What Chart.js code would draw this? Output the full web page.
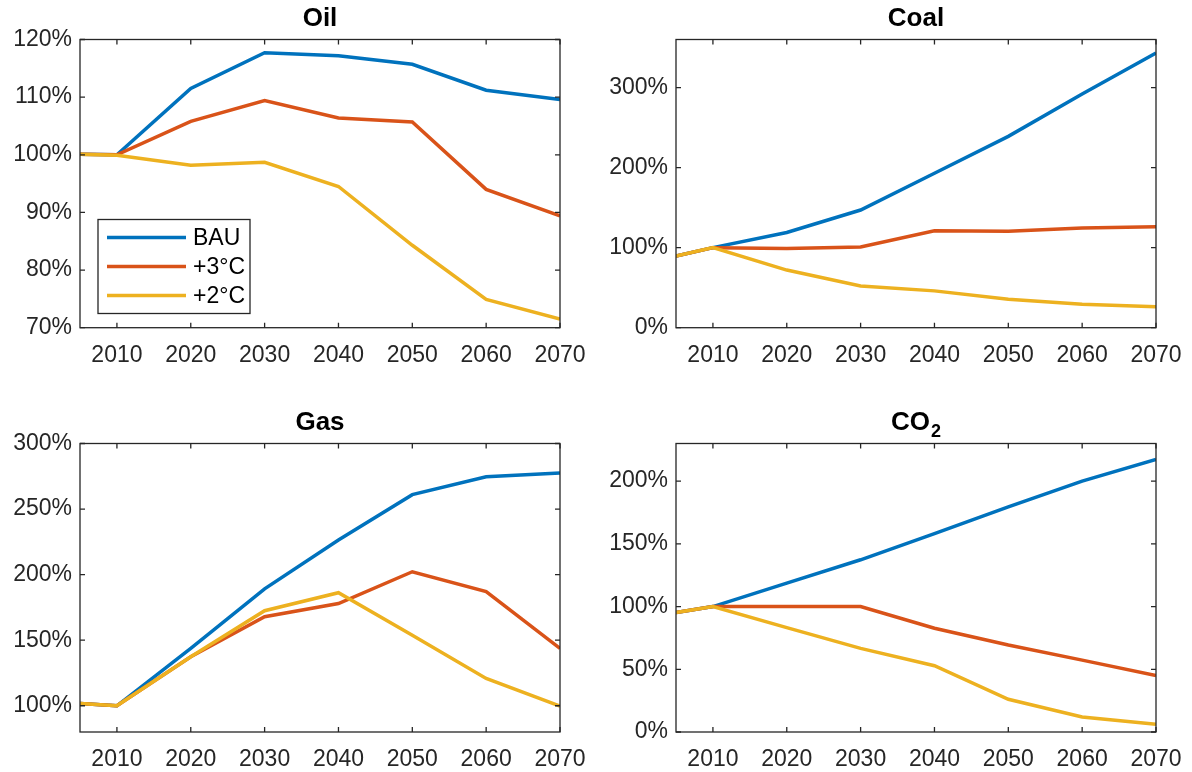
<!DOCTYPE html>
<html>
<head>
<meta charset="utf-8">
<script src="https://cdn.jsdelivr.net/npm/chart.js@4.4.1/dist/chart.umd.min.js"></script>
<style>
  body { margin: 0; background: #fff; }
  #wrap { position: relative; width: 1192px; height: 772px; }
  canvas { position: absolute; }
</style>
</head>
<body>
<div id="wrap">
  <canvas id="oilChart" width="596" height="386" style="left:0;top:0"></canvas>
  <canvas id="coalChart" width="596" height="386" style="left:596px;top:0"></canvas>
  <canvas id="gasChart" width="596" height="386" style="left:0;top:386px"></canvas>
  <canvas id="co2Chart" width="596" height="386" style="left:596px;top:386px"></canvas>
</div>
<script>
// Years on the x axis and the tick labels shown
const years = [2005, 2010, 2020, 2030, 2040, 2050, 2060, 2070];
const yearTicks = [2010, 2020, 2030, 2040, 2050, 2060, 2070];
const scenarios = ['BAU', '+3°C', '+2°C'];

// Oil (% of 2010)
const oilBAU = [100.1, 100, 111.5, 117.7, 117.2, 115.7, 111.2, 109.6];
const oil3C  = [100.1, 100, 105.8, 109.4, 106.4, 105.7, 94.0, 89.4];
const oil2C  = [100.1, 99.9, 98.2, 98.7, 94.5, 84.3, 74.9, 71.5];
const oilTicks = [70, 80, 90, 100, 110, 120];

// Coal
const coalBAU = [89.6, 100, 119, 147, 193, 239, 292, 343];
const coal3C  = [89.6, 100, 99, 100.8, 121, 120.4, 124.6, 126];
const coal2C  = [89.6, 100, 72, 52, 46, 35.4, 29.2, 26.3];
const coalTicks = [0, 100, 200, 300];

// Gas
const gasBAU = [101.8, 100, 143.7, 189.2, 226.4, 261, 274.6, 277.6];
const gas3C  = [101.8, 100, 137.4, 167.9, 178, 202.2, 187, 143.7];
const gas2C  = [101.8, 100, 137.4, 172.5, 186.2, 153.8, 120.8, 99.7];
const gasTicks = [100, 150, 200, 250, 300];

// CO2
const co2BAU = [95.2, 100, 118.7, 137.3, 158.1, 179.5, 200, 217.3];
const co23C  = [95.2, 100, 100, 100, 82.7, 69.3, 57.3, 45];
const co22C  = [95.2, 100, 83.2, 66.7, 52.8, 26.1, 12, 6.1];
const co2Ticks = [0, 50, 100, 150, 200];

const lineColors = ['#0072BD', '#D95319', '#EDB120'];
const axisColor = '#262626';

Chart.defaults.font.family = '"Liberation Sans", Arial, sans-serif';
Chart.defaults.color = axisColor;

// Box around the plot with inward ticks on all four sides (MATLAB style)
const frame = {
    id: 'frame',
    afterDatasetsDraw(chart) {
        const { ctx, chartArea: a, scales } = chart;
        ctx.save();
        ctx.strokeStyle = axisColor;
        ctx.lineWidth = 1.3;
        ctx.strokeRect(a.left, a.top, a.width, a.height);
        ctx.beginPath();
        scales.x.ticks.forEach(t => {
            const px = scales.x.getPixelForValue(t.value);
            ctx.moveTo(px, a.bottom); ctx.lineTo(px, a.bottom - 5);
            ctx.moveTo(px, a.top); ctx.lineTo(px, a.top + 5);
        });
        scales.y.ticks.forEach(t => {
            const py = scales.y.getPixelForValue(t.value);
            ctx.moveTo(a.left, py); ctx.lineTo(a.left + 5, py);
            ctx.moveTo(a.right, py); ctx.lineTo(a.right - 5, py);
        });
        ctx.stroke();
        ctx.restore();
    }
};

// Title centred over the plot area, with optional subscript
const panelTitle = {
    id: 'panelTitle',
    afterDraw(chart, args, opts) {
        const { ctx, chartArea: a } = chart;
        const cx = (a.left + a.right) / 2;
        const cy = a.top - 21;
        ctx.save();
        ctx.fillStyle = '#000';
        ctx.textBaseline = 'middle';
        ctx.textAlign = 'left';
        ctx.font = 'bold 26px "Liberation Sans", Arial, sans-serif';
        const w1 = ctx.measureText(opts.text).width;
        let w2 = 0;
        if (opts.sub) {
            ctx.font = 'bold 18px "Liberation Sans", Arial, sans-serif';
            w2 = ctx.measureText(opts.sub).width + 1;
        }
        const x0 = cx - (w1 + w2) / 2;
        ctx.font = 'bold 26px "Liberation Sans", Arial, sans-serif';
        ctx.fillText(opts.text, x0, cy);
        if (opts.sub) {
            ctx.font = 'bold 18px "Liberation Sans", Arial, sans-serif';
            ctx.fillText(opts.sub, x0 + w1 + 1, cy + 10);
        }
        ctx.restore();
    }
};

// Legend drawn inside the plot area (lower left)
const boxLegend = {
    id: 'boxLegend',
    afterDraw(chart) {
        const { ctx, chartArea: a } = chart;
        const x = a.left + 18, y = a.top + 180, w = 152, h = 94;
        ctx.save();
        ctx.fillStyle = '#fff';
        ctx.fillRect(x, y, w, h);
        ctx.strokeStyle = axisColor;
        ctx.lineWidth = 1.3;
        ctx.strokeRect(x, y, w, h);
        ctx.font = '23px "Liberation Sans", Arial, sans-serif';
        ctx.textBaseline = 'middle';
        ctx.lineWidth = 3.5;
        chart.data.datasets.forEach((ds, i) => {
            const ry = y + 18 + i * 29;
            ctx.strokeStyle = ds.borderColor;
            ctx.beginPath();
            ctx.moveTo(x + 9, ry);
            ctx.lineTo(x + 88, ry);
            ctx.stroke();
            ctx.fillStyle = '#000';
            ctx.fillText(ds.label, x + 95, ry + 1);
        });
        ctx.restore();
    }
};

function makePanel(id, title, sub, series, yMin, yMax, yTicks, padTop, xHeight, withLegend) {
    const ctx = document.getElementById(id).getContext('2d');
    const plugins = [frame, panelTitle];
    if (withLegend) plugins.push(boxLegend);
    return new Chart(ctx, {
        type: 'line',
        data: {
            datasets: series.map((vals, i) => ({
                label: scenarios[i],
                data: vals.map((v, j) => ({ x: years[j], y: v })),
                borderColor: lineColors[i],
                borderWidth: 3.5,
                pointRadius: 0,
                tension: 0,
                order: 3 - i // +2°C on top, like the original
            }))
        },
        options: {
            responsive: false,
            animation: false,
            layout: { padding: { top: padTop, right: 36, left: 0, bottom: 0 } },
            plugins: {
                legend: { display: false },
                tooltip: { enabled: false },
                panelTitle: { text: title, sub: sub }
            },
            scales: {
                x: {
                    type: 'linear',
                    min: 2005,
                    max: 2070,
                    grid: { display: false, drawTicks: false },
                    border: { display: false },
                    afterBuildTicks: s => { s.ticks = yearTicks.map(v => ({ value: v })); },
                    afterFit: s => {
                        s.height = xHeight;
                        s.paddingLeft = 0;
                        s.paddingRight = 0;
                    },
                    ticks: {
                        autoSkip: false,
                        maxRotation: 0,
                        padding: 14,
                        font: { size: 23 },
                        color: axisColor,
                        callback: v => String(v)
                    }
                },
                y: {
                    min: yMin,
                    max: yMax,
                    grid: { display: false, drawTicks: false },
                    border: { display: false },
                    afterBuildTicks: s => { s.ticks = yTicks.map(v => ({ value: v })); },
                    afterFit: s => {
                        s.width = 80;
                        s.paddingTop = 0;
                        s.paddingBottom = 0;
                    },
                    ticks: {
                        padding: 8,
                        font: { size: 23 },
                        color: axisColor,
                        callback: v => v + '%'
                    }
                }
            }
        },
        plugins: plugins
    });
}

makePanel('oilChart', 'Oil', '', [oilBAU, oil3C, oil2C], 70, 120, oilTicks, 39.5, 58.3, true);
makePanel('coalChart', 'Coal', '', [coalBAU, coal3C, coal2C], 0, 360, coalTicks, 39.5, 58.3, false);
makePanel('gasChart', 'Gas', '', [gasBAU, gas3C, gas2C], 80, 300, gasTicks, 57.5, 40, false);
makePanel('co2Chart', 'CO', '2', [co2BAU, co23C, co22C], 0, 230, co2Ticks, 57.5, 40, false);
</script>
</body>
</html>
